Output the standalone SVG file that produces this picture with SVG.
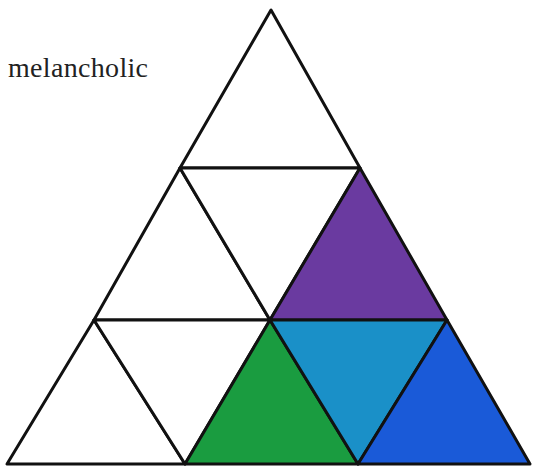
<svg xmlns="http://www.w3.org/2000/svg" width="537" height="469" viewBox="0 0 537 469">
<style>
.t{stroke:#111;stroke-width:3;stroke-linejoin:round}
.w{fill:#fff}
.lbl{font-family:"Liberation Serif","Times New Roman","DejaVu Serif",serif;font-size:28px;fill:#222}
</style>
<rect width="537" height="469" fill="#fff"/>
<text class="lbl" x="8" y="77" textLength="140" lengthAdjust="spacing">melancholic</text>
<g id="tri-top"><polygon class="t w" points="271,10 180,168 360,168"/></g>
<g id="tri-r2-left"><polygon class="t w" points="180,168 94,320 270,320"/></g>
<g id="tri-r2-mid"><polygon class="t w" points="180,168 360,168 270,320"/></g>
<g id="tri-purple"><polygon class="t" fill="#6a3aa0" points="360,168 270,320 447,320"/></g>
<g id="tri-r3-left"><polygon class="t w" points="94,320 7,464 185,464"/></g>
<g id="tri-r3-down1"><polygon class="t w" points="94,320 270,320 185,464"/></g>
<g id="tri-green"><polygon class="t" fill="#1a9c40" points="270,320 185,464 358,464"/></g>
<g id="tri-cyan"><polygon class="t" fill="#1a90c8" points="270,320 447,320 358,464"/></g>
<g id="tri-blue"><polygon class="t" fill="#1a5ad8" points="447,320 358,464 530,464"/></g>
</svg>
